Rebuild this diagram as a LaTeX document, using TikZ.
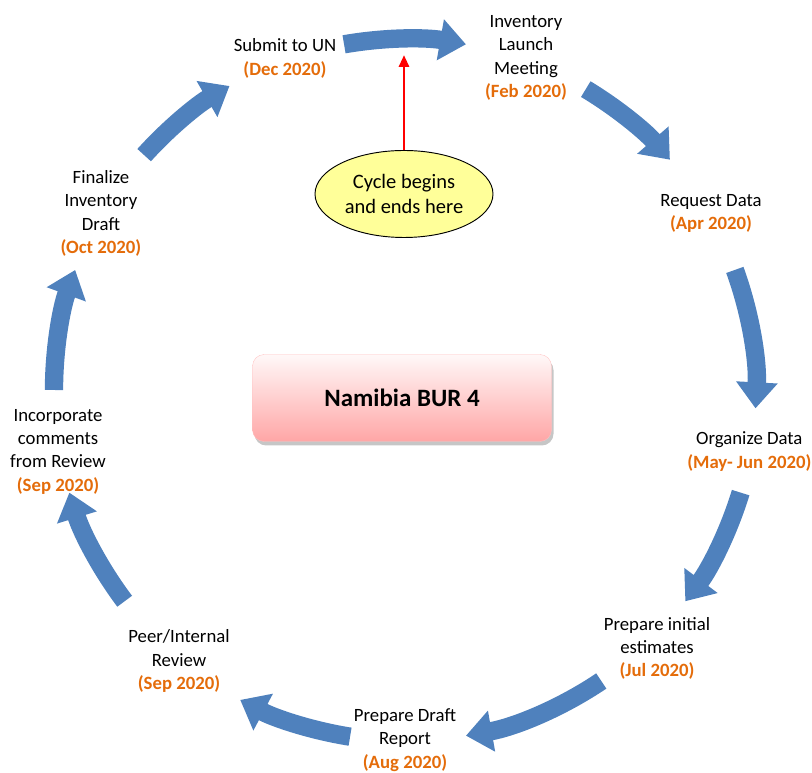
\documentclass[tikz,border=0pt]{standalone}
\usepackage{fontspec}
\setmainfont{Carlito}
\usetikzlibrary{arrows.meta,shapes.geometric,shadows}
\definecolor{cycleblue}{RGB}{79,129,189}
\definecolor{dateorange}{RGB}{228,108,10}
\definecolor{boxpink}{RGB}{255,166,166}
\definecolor{noteyellow}{RGB}{255,255,153}
\newcommand{\datelbl}[1]{\\{\color{dateorange}\bfseries #1}}

\begin{document}
\begin{tikzpicture}[
  stagelbl/.style={align=center, inner sep=0pt, font=\fontsize{16}{19.9}\selectfont},
  cyclearrow/.style={cycleblue, line width=0.55cm, -{Triangle[length=0.78cm,width=1.2cm]}}
]
\useasboundingbox (-12.15,-11.49) rectangle (12.21,11.7);

% big blue arrows round the cycle
\foreach \a/\b in {100/80, 59/41, 20/-3, -17/-37, -56/-80, -99/-118, -143/-163, 180/160, 138/120}
  \draw [cyclearrow] (\a:10.53) arc [start angle=\a, end angle=\b, radius=10.53];

% stages
\node [stagelbl] (submit) at (-3.6,9.945) {Submit to UN\datelbl{(Dec 2020)}};
\node [stagelbl] (launch) at (3.63,9.96) {Inventory\\Launch\\Meeting\datelbl{(Feb 2020)}};
\node [stagelbl] (request) at (9.18,5.295) {Request Data\datelbl{(Apr 2020)}};
\node [stagelbl] (organize) at (10.33,-1.845) {Organize Data\datelbl{(May- Jun 2020)}};
\node [stagelbl] (initial) at (7.56,-7.755) {Prepare initial\\estimates\datelbl{(Jul 2020)}};
\node [stagelbl] (draft) at (0,-10.5) {Prepare Draft\\Report\datelbl{(Aug 2020)}};
\node [stagelbl] (peer) at (-6.78,-8.13) {Peer/Internal\\Review\datelbl{(Sep 2020)}};
\node [stagelbl] (comments) at (-10.41,-1.845) {Incorporate\\comments\\from Review\datelbl{(Sep 2020)}};
\node [stagelbl] (finalize) at (-9.12,5.295) {Finalize\\Inventory\\Draft\datelbl{(Oct 2020)}};

% centre box
\node [rounded corners=0.35cm, minimum width=8.97cm, minimum height=2.61cm,
       draw=boxpink!70, line width=0.3pt, top color=boxpink!8, bottom color=boxpink,
       drop shadow={shadow xshift=0.06cm, shadow yshift=-0.12cm, opacity=0.45},
       font=\fontsize{21.3}{25}\selectfont\bfseries] (bur) at (-0.09,-0.24) {Namibia BUR 4};

% start marker
\node [ellipse, draw, line width=0.8pt, fill=noteyellow, minimum width=5.34cm, minimum height=2.61cm,
       inner sep=0pt, stagelbl, font=\fontsize{17.5}{21.5}\selectfont] (start) at (-0.03,5.88) {Cycle begins\\and ends here};
\coordinate (entry) at (-0.12,10.05);
\draw [red, line width=2.5pt, -{Triangle[length=0.36cm,width=0.3cm]}] (start.north) -- (start.north |- entry);

\end{tikzpicture}
\end{document}
